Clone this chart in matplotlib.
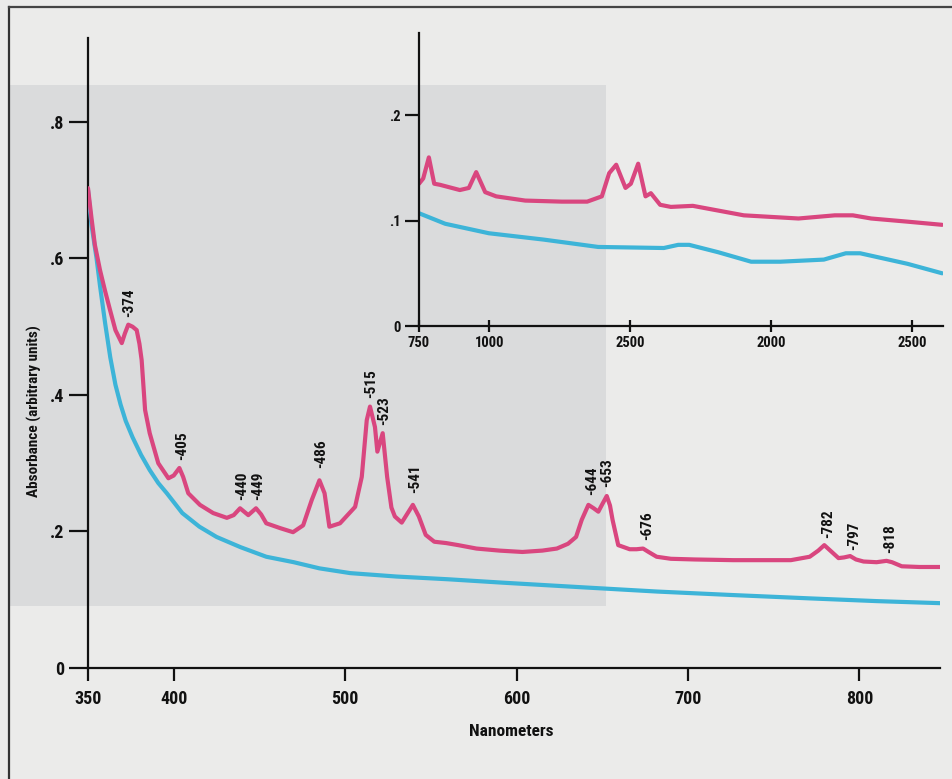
import matplotlib
matplotlib.use("Agg")
import matplotlib.pyplot as plt
from matplotlib.patches import Rectangle
from matplotlib import font_manager

_avail = {f.name for f in font_manager.fontManager.ttflist}
_pick = [n for n in ['Liberation Sans Narrow', 'Roboto Condensed', 'Open Sans Condensed',
                     'Noto Sans Condensed', 'Liberation Sans'] if n in _avail]
FONT = _pick[:1] + ['DejaVu Sans']
plt.rcParams['font.family'] = FONT
plt.rcParams['font.weight'] = 'bold'

# ---------------- data ----------------
pink_nm = [350, 352, 354, 357, 360, 362.8, 366, 369.7, 371.5, 373.5, 376, 378.4, 380, 381.3,
           383.3, 386, 391, 396.9, 400, 403.3, 405.5, 408.5, 415.3, 423, 431, 435, 438.7,
           443.5, 448, 451, 454, 462, 469.6, 475.5, 480.5, 485, 488, 490.8, 497, 505.8,
           509.7, 512.6, 514.5, 517.4, 518.8, 521.9, 524.5, 527, 529, 533, 539.5, 543,
           547, 552, 559, 566, 576.6, 590, 603.4, 615, 623.5, 630, 634.7, 638, 641.9, 645,
           647.7, 650, 652.6, 654.5, 656, 659.3, 666, 670, 673.8, 677, 681.7, 690, 704,
           726.3, 745, 760, 771, 776, 779.5, 783, 787.8, 791, 794.6, 798, 802.4, 810,
           815.8, 819, 824.7, 835, 847]
pink_abs = [0.703, 0.660, 0.620, 0.583, 0.552, 0.525, 0.495, 0.476, 0.490, 0.503, 0.500,
            0.495, 0.475, 0.451, 0.378, 0.344, 0.300, 0.278, 0.282, 0.293, 0.280, 0.256,
            0.239, 0.227, 0.220, 0.224, 0.234, 0.224, 0.234, 0.225, 0.212, 0.205, 0.199,
            0.209, 0.246, 0.275, 0.256, 0.207, 0.212, 0.236, 0.280, 0.363, 0.383, 0.353,
            0.317, 0.344, 0.280, 0.235, 0.222, 0.213, 0.239, 0.222, 0.195, 0.185, 0.183,
            0.180, 0.175, 0.172, 0.170, 0.172, 0.175, 0.182, 0.192, 0.217, 0.239, 0.234,
            0.229, 0.240, 0.252, 0.238, 0.217, 0.180, 0.174, 0.174, 0.175, 0.170, 0.163,
            0.160, 0.159, 0.158, 0.158, 0.158, 0.163, 0.172, 0.180, 0.172, 0.161, 0.162,
            0.164, 0.159, 0.156, 0.155, 0.157, 0.155, 0.149, 0.148, 0.148]

cyan_nm = [350, 352, 355, 357, 360, 363, 366, 369, 372, 376, 381, 386, 391, 396, 405, 415,
           425, 439, 454, 470, 485, 503, 530, 560, 592, 640, 682, 725, 771, 810, 847]
cyan_abs = [0.700, 0.650, 0.600, 0.560, 0.505, 0.455, 0.415, 0.386, 0.362, 0.338, 0.312,
            0.290, 0.271, 0.256, 0.227, 0.207, 0.192, 0.177, 0.163, 0.155, 0.146, 0.139,
            0.134, 0.130, 0.125, 0.118, 0.112, 0.107, 0.102, 0.098, 0.095]

peak_labels = ['374', '405', '440', '449', '486', '515', '523', '541', '644', '653', '676',
               '782', '797', '818']
peak_label_nm = [374, 405, 440, 449, 486, 515, 523, 541, 644, 653, 676, 782, 797, 818]
peak_label_abs = [0.514, 0.305, 0.246, 0.246, 0.293, 0.396, 0.356, 0.256, 0.253, 0.265,
                  0.188, 0.190, 0.173, 0.168]

main_xticks = [350, 400, 500, 600, 700, 800]
main_yticks = [0, 0.2, 0.4, 0.6, 0.8]
main_yticklabels = ['0', '.2', '.4', '.6', '.8']

inset_pink_x = [750, 765, 785, 804, 824, 895, 927, 953, 985, 1024, 1127, 1257, 1347, 1399,
                1425, 1450, 1483, 1502, 1528, 1554, 1573, 1606, 1644, 1722, 1903, 2097,
                2226, 2290, 2355, 2484, 2607]
inset_pink_y = [0.135, 0.140, 0.160, 0.135, 0.134, 0.129, 0.131, 0.146, 0.127, 0.123, 0.119,
                0.118, 0.118, 0.123, 0.145, 0.153, 0.131, 0.135, 0.154, 0.123, 0.126, 0.115,
                0.113, 0.114, 0.105, 0.102, 0.105, 0.105, 0.102, 0.099, 0.096]
inset_cyan_x = [750, 843, 998, 1192, 1386, 1619, 1670, 1709, 1812, 1929, 2032, 2187, 2265,
                2316, 2484, 2607]
inset_cyan_y = [0.107, 0.097, 0.088, 0.082, 0.075, 0.074, 0.077, 0.077, 0.070, 0.061, 0.061,
                0.063, 0.069, 0.069, 0.059, 0.050]
inset_xticks = [750, 1000, 1500, 2000, 2500]
inset_xticklabels = ['750', '1000', '2500', '2000', '2500']
inset_yticks = [0, 0.1, 0.2]
inset_yticklabels = ['0', '.1', '.2']

PINK = '#d9467f'
CYAN = '#3db4d8'
INK = '#111111'

# ---------------- figure ----------------
W, H = 953, 779
fig = plt.figure(figsize=(W / 100, H / 100), dpi=100, facecolor='#ebebea')

def fx(px):
    return px / W

def fy(py):
    return 1 - py / H

# scanned-page background (own axes, behind everything)
bg = fig.add_axes([0, 0, 1, 1], zorder=-10)
bg.set_xlim(0, W)
bg.set_ylim(H, 0)
bg.axis('off')
bg.add_patch(Rectangle((10, 85), 596, 521, facecolor='#dadbdc', edgecolor='none'))
bg.plot([9, 9], [779, 7], color='#333333', lw=1.6)
bg.plot([9, 953], [7, 7], color='#444444', lw=1.6)

# ---------------- main axes ----------------
ax = fig.add_axes([fx(88), fy(668), fx(940) - fx(88), fy(38) - fy(668)])
ax.set_facecolor('none')
ax.plot(cyan_nm, cyan_abs, color=CYAN, lw=3.0, solid_capstyle='round',
        solid_joinstyle='round', zorder=3)
ax.plot(pink_nm, pink_abs, color=PINK, lw=3.0, solid_capstyle='round',
        solid_joinstyle='round', zorder=4)
ax.set_xlim(350, 847)
ax.set_ylim(0, 0.923)
for s in ['top', 'right']:
    ax.spines[s].set_visible(False)
for s in ['left', 'bottom']:
    ax.spines[s].set_linewidth(1.6)
    ax.spines[s].set_color(INK)
ax.set_xticks(main_xticks)
ax.set_xticklabels([str(t) for t in main_xticks])
ax.set_yticks(main_yticks)
ax.set_yticklabels(main_yticklabels)
ax.tick_params(axis='y', direction='out', length=14, width=1.6, pad=3, labelsize=13,
               colors=INK)
ax.tick_params(axis='x', direction='out', length=9.5, width=1.6, pad=6, labelsize=13,
               colors=INK)
for lab in ax.get_xticklabels() + ax.get_yticklabels():
    lab.set_fontweight('bold')

for t, xv, yv in zip(peak_labels, peak_label_nm, peak_label_abs):
    ax.text(xv, yv, '-' + t, rotation=90, ha='center', va='bottom', fontsize=11,
            fontweight='bold', color=INK, zorder=5)

fig.text(fx(34), fy(411), 'Absorbance (arbitrary units)', rotation=90, ha='center',
         va='center', fontsize=11, fontweight='bold', color=INK)
fig.text(fx(511), fy(732), 'Nanometers', ha='center', va='center', fontsize=12.5,
         fontweight='bold', color=INK)

# ---------------- inset axes ----------------
ins = fig.add_axes([fx(419), fy(326), fx(943) - fx(419), fy(33) - fy(326)])
ins.set_facecolor('none')
ins.plot(inset_cyan_x, inset_cyan_y, color=CYAN, lw=3.0, solid_capstyle='round',
         solid_joinstyle='round')
ins.plot(inset_pink_x, inset_pink_y, color=PINK, lw=3.0, solid_capstyle='round',
         solid_joinstyle='round')
ins.set_xlim(750, 2610)
ins.set_ylim(0, 0.278)
for s in ['top', 'right']:
    ins.spines[s].set_visible(False)
for s in ['left', 'bottom']:
    ins.spines[s].set_linewidth(1.6)
    ins.spines[s].set_color(INK)
ins.set_xticks(inset_xticks)
ins.set_xticklabels(inset_xticklabels)
ins.set_yticks(inset_yticks)
ins.set_yticklabels(inset_yticklabels)
ins.tick_params(axis='y', direction='out', length=10, width=1.6, pad=3, labelsize=10.5,
                colors=INK)
ins.tick_params(axis='x', direction='inout', length=8, width=1.6, pad=3, labelsize=10.5,
                colors=INK)
for lab in ins.get_xticklabels() + ins.get_yticklabels():
    lab.set_fontweight('bold')

fig.savefig('out.png', dpi=100, facecolor=fig.get_facecolor())
